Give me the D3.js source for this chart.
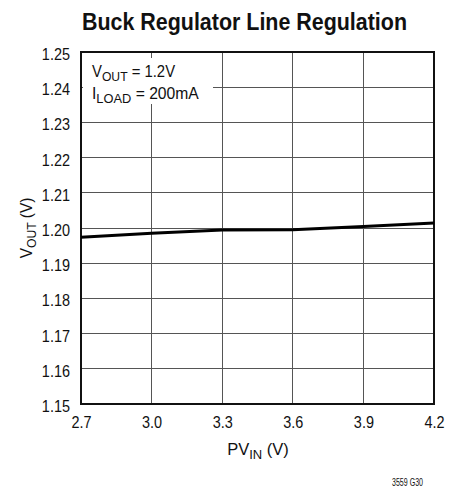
<!DOCTYPE html>
<html>
<head>
<meta charset="utf-8">
<script src="https://cdn.jsdelivr.net/npm/d3@7"></script>
<style>
  html, body { margin: 0; padding: 0; background: #fff; }
  svg { display: block; }
  text { font-family: "Liberation Sans Narrow", "Arial Narrow", "Liberation Sans", sans-serif; fill: #111; }
</style>
</head>
<body>
<svg id="chart" width="453" height="487"></svg>
<script>
// Output voltage vs. input supply, buck regulator line regulation
const pvin = [2.7, 3.0, 3.3, 3.6, 3.9, 4.2];
const vout = [1.1974, 1.1985, 1.1994, 1.1995, 1.2004, 1.2014];

const xTicks = [2.7, 3.0, 3.3, 3.6, 3.9, 4.2];
const yTicks = [1.15, 1.16, 1.17, 1.18, 1.19, 1.20, 1.21, 1.22, 1.23, 1.24, 1.25];

const svg = d3.select("#chart");
const plotL = 81, plotR = 434, plotT = 52, plotB = 404;

const x = d3.scaleLinear().domain([2.7, 4.2]).range([plotL, plotR]);
const y = d3.scaleLinear().domain([1.15, 1.25]).range([plotB, plotT]);

// squeeze text horizontally to a condensed look
function condense(sel, k) {
  sel.each(function () {
    const w = this.getComputedTextLength();
    d3.select(this).attr("textLength", w * k).attr("lengthAdjust", "spacingAndGlyphs");
  });
}

// Title
svg.append("text")
  .attr("x", 244.5).attr("y", 30)
  .attr("text-anchor", "middle")
  .attr("font-size", 24.5).attr("font-weight", "bold")
  .attr("textLength", 325).attr("lengthAdjust", "spacingAndGlyphs")
  .text("Buck Regulator Line Regulation");

// Grid
const grid = svg.append("g").attr("stroke", "#555").attr("stroke-width", 1).attr("shape-rendering", "crispEdges");
grid.selectAll("line.v").data(xTicks.slice(1, -1)).join("line")
  .attr("class", "v")
  .attr("x1", d => x(d)).attr("x2", d => x(d))
  .attr("y1", plotT).attr("y2", plotB);
grid.selectAll("line.h").data(yTicks.slice(1, -1)).join("line")
  .attr("class", "h")
  .attr("x1", plotL).attr("x2", plotR)
  .attr("y1", d => y(d)).attr("y2", d => y(d));

// Tick labels via axes (no tick lines)
const xAxis = svg.append("g")
  .attr("transform", `translate(0,${plotB})`)
  .call(d3.axisBottom(x).tickValues(xTicks).tickFormat(d3.format(".1f")).tickSize(0).tickPadding(0));
xAxis.select(".domain").remove();
xAxis.attr("font-family", null).attr("font-size", null);
xAxis.selectAll("text")
  .attr("y", 24).attr("dy", null)
  .attr("font-size", 17).style("fill", "#111")
  .call(condense, 0.85);

const yAxis = svg.append("g")
  .attr("transform", `translate(${plotL},0)`)
  .call(d3.axisLeft(y).tickValues(yTicks).tickFormat(d3.format(".2f")).tickSize(0).tickPadding(0));
yAxis.select(".domain").remove();
yAxis.attr("font-family", null).attr("font-size", null);
yAxis.selectAll("text")
  .attr("x", -11).attr("dy", null).attr("y", 7.5)
  .attr("font-size", 17).style("fill", "#111")
  .call(condense, 0.85);

// Conditions annotation
const note = svg.append("g");
note.append("rect")
  .attr("x", plotL + 2).attr("y", 58).attr("width", 130).attr("height", 46)
  .attr("fill", "#fff");
const t1 = note.append("text").attr("x", 92).attr("y", 77).attr("font-size", 16.5);
t1.append("tspan").text("V");
t1.append("tspan").attr("font-size", 13.5).attr("dy", 4).text("OUT");
t1.append("tspan").attr("dy", -4).text(" = 1.2V");
t1.call(condense, 0.9);
const t2 = note.append("text").attr("x", 92).attr("y", 99).attr("font-size", 16.5);
t2.append("tspan").text("I");
t2.append("tspan").attr("font-size", 13.5).attr("dy", 4).text("LOAD");
t2.append("tspan").attr("dy", -4).text(" = 200mA");
t2.call(condense, 0.95);

// Frame
svg.append("rect")
  .attr("x", plotL).attr("y", plotT)
  .attr("width", plotR - plotL).attr("height", plotB - plotT)
  .attr("fill", "none").attr("stroke", "#111").attr("stroke-width", 2);

// Data curve
svg.append("path")
  .datum(pvin.map((v, i) => [v, vout[i]]))
  .attr("fill", "none").attr("stroke", "#000").attr("stroke-width", 3)
  .attr("d", d3.line().x(d => x(d[0])).y(d => y(d[1])));

// Axis titles
const xt = svg.append("text").attr("x", 258).attr("y", 455).attr("text-anchor", "middle").attr("font-size", 16.5);
xt.append("tspan").text("PV");
xt.append("tspan").attr("font-size", 13).attr("dy", 4).text("IN");
xt.append("tspan").attr("dy", -4).text(" (V)");

const yt = svg.append("text").attr("transform", "translate(32,228) rotate(-90)").attr("text-anchor", "middle").attr("font-size", 17);
yt.append("tspan").text("V");
yt.append("tspan").attr("font-size", 13.5).attr("dy", 4).text("OUT");
yt.append("tspan").attr("dy", -4).text(" (V)");
yt.call(condense, 0.9);

// Figure id
svg.append("text").attr("x", 423).attr("y", 485.5).attr("text-anchor", "end").attr("font-size", 11)
  .attr("textLength", 31).attr("lengthAdjust", "spacingAndGlyphs")
  .text("3559 G30");
</script>
</body>
</html>
